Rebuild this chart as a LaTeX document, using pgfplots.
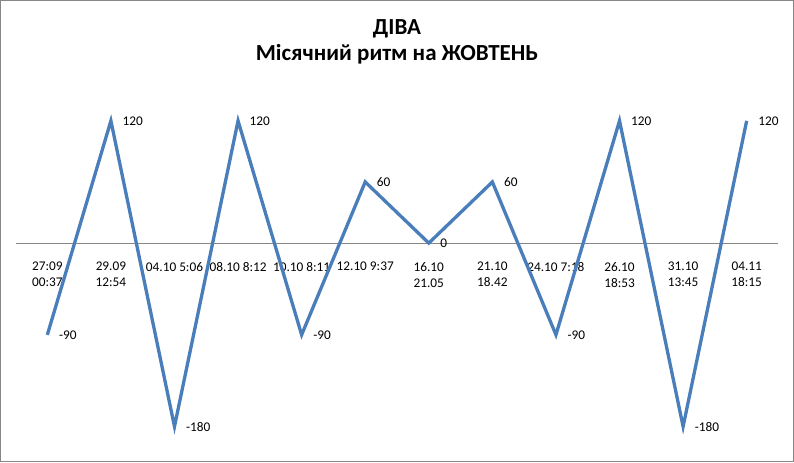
\documentclass[border=0pt]{standalone}
\usepackage{fontspec}
\setmainfont{Carlito}
\usepackage{pgfplots}
\pgfplotsset{compat=1.18}
\definecolor{lineblue}{HTML}{4A7EBB}
\definecolor{axgray}{HTML}{868686}
\definecolor{framegray}{HTML}{878787}
\begin{document}
\begin{tikzpicture}
\begin{axis}[
  scale only axis,
  width=761bp, height=355.8bp,
  xmin=-0.5, xmax=11.5, ymin=-200, ymax=150,
  axis x line=middle, axis y line=none,
  x axis line style={-, draw=axgray, line width=1bp},
  xtick={0,1,2,3,4,5,6,7,8,9,10,11},
  xticklabels={{27:09\\00:37},{29.09\\12:54},{04.10 5:06},{08.10 8:12},{10.10 8:11},{12.10 9:37},{16.10\\21.05},{21.10\\18.42},{24.10 7:18},{26.10\\18:53},{31.10\\13:45},{04.11\\18:15}},
  major tick length=0pt,
  xticklabel style={align=center, font=\fontsize{13.3}{16}\selectfont, inner sep=0pt, yshift=-19bp, text=black},
  clip=false,
  point meta=explicit symbolic,
  nodes near coords,
  nodes near coords style={anchor=west, font=\fontsize{13.3}{16}\selectfont, inner sep=0pt, xshift=10bp, text=black},
]
\addplot[color=lineblue, line width=3.3bp, mark=none, line join=miter] coordinates {
  (0,-90) [-90]
  (1,120) [120]
  (2,-180) [-180]
  (3,120) [120]
  (4,-90) [-90]
  (5,60) [60]
  (6,0) [0]
  (7,60) [60]
  (8,-90) [-90]
  (9,120) [120]
  (10,-180) [-180]
  (11,120) [120]
};
\end{axis}
\draw[framegray, line width=1bp] ([shift={(-15bp,-14.6bp)}]current axis.south west) rectangle ([shift={(15bp,89.5bp)}]current axis.north east);
\node[anchor=base, font=\bfseries\fontsize{23}{27}\selectfont] at ([yshift=55.5bp]current axis.north) {ДІВА};
\node[anchor=base, font=\bfseries\fontsize{23}{27}\selectfont] at ([yshift=29.8bp]current axis.north) {Місячний ритм на ЖОВТЕНЬ};
\end{tikzpicture}
\end{document}
